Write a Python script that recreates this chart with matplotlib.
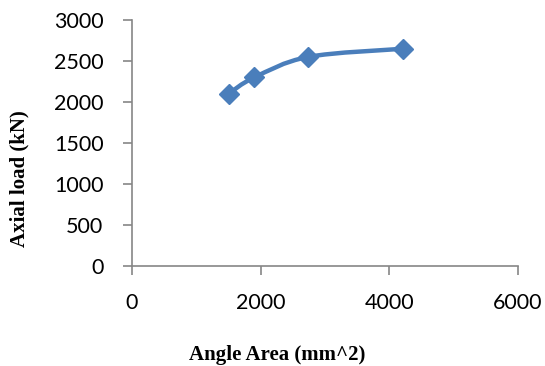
import numpy as np
import matplotlib
matplotlib.use("Agg")
import matplotlib.pyplot as plt
from matplotlib.path import Path
from matplotlib.patches import PathPatch

area = [1500, 1900, 2740, 4220]
load = [2100, 2300, 2550, 2650]
xticks = [0, 2000, 4000, 6000]
yticks = [0, 500, 1000, 1500, 2000, 2500, 3000]

color = "#4A7EBB"
gray = "#868686"

fig = plt.figure(figsize=(5.45, 3.66), dpi=100)
ax = fig.add_axes([132/545, 1-266/366, 386/545, 246/366])

# Excel-style smoothed line (cubic Bezier through points)
def smooth_path(xs, ys, t=1/6):
    pts = np.column_stack([xs, ys]).astype(float)
    n = len(pts)
    verts = [pts[0]]
    codes = [Path.MOVETO]
    for i in range(n - 1):
        p0 = pts[i - 1] if i > 0 else pts[i]
        p1 = pts[i]
        p2 = pts[i + 1]
        p3 = pts[i + 2] if i + 2 < n else pts[i + 1]
        c1 = p1 + (p2 - p0) * t
        c2 = p2 - (p3 - p1) * t
        verts += [c1, c2, p2]
        codes += [Path.CURVE4] * 3
    return Path(verts, codes)

ax.set_xlim(0, 6000)
ax.set_ylim(0, 3000)
patch = PathPatch(smooth_path(area, load), facecolor="none", edgecolor=color,
                  lw=3.2, capstyle="round", joinstyle="round", zorder=2)
ax.add_patch(patch)
ax.plot(area, load, linestyle="none", marker="D", markersize=10.5,
        color=color, zorder=3, clip_on=False)

for s in ["top", "right"]:
    ax.spines[s].set_visible(False)
for s in ["left", "bottom"]:
    ax.spines[s].set_color(gray)
    ax.spines[s].set_linewidth(1.2)

ax.set_xticks(xticks)
ax.set_yticks(yticks)
ax.tick_params(axis="both", direction="out", length=6.5, width=1.2, color=gray,
               labelsize=15.5, labelcolor="black")
ax.tick_params(axis="y", pad=14)
ax.tick_params(axis="x", pad=13)
for lab in ax.get_xticklabels() + ax.get_yticklabels():
    lab.set_family(["Lato", "DejaVu Sans"])

ax.set_xlabel("Angle Area (mm^2)", family=["Liberation Serif"], fontweight="bold",
              fontsize=15)
ax.set_ylabel("Axial load (kN)", family=["Liberation Serif"], fontweight="bold",
              fontsize=15)
ax.xaxis.set_label_coords((277-132)/386, -(345-266)/246)
ax.yaxis.set_label_coords(-(132-29)/386, (266-179)/246)

fig.savefig("out.png", dpi=100)
